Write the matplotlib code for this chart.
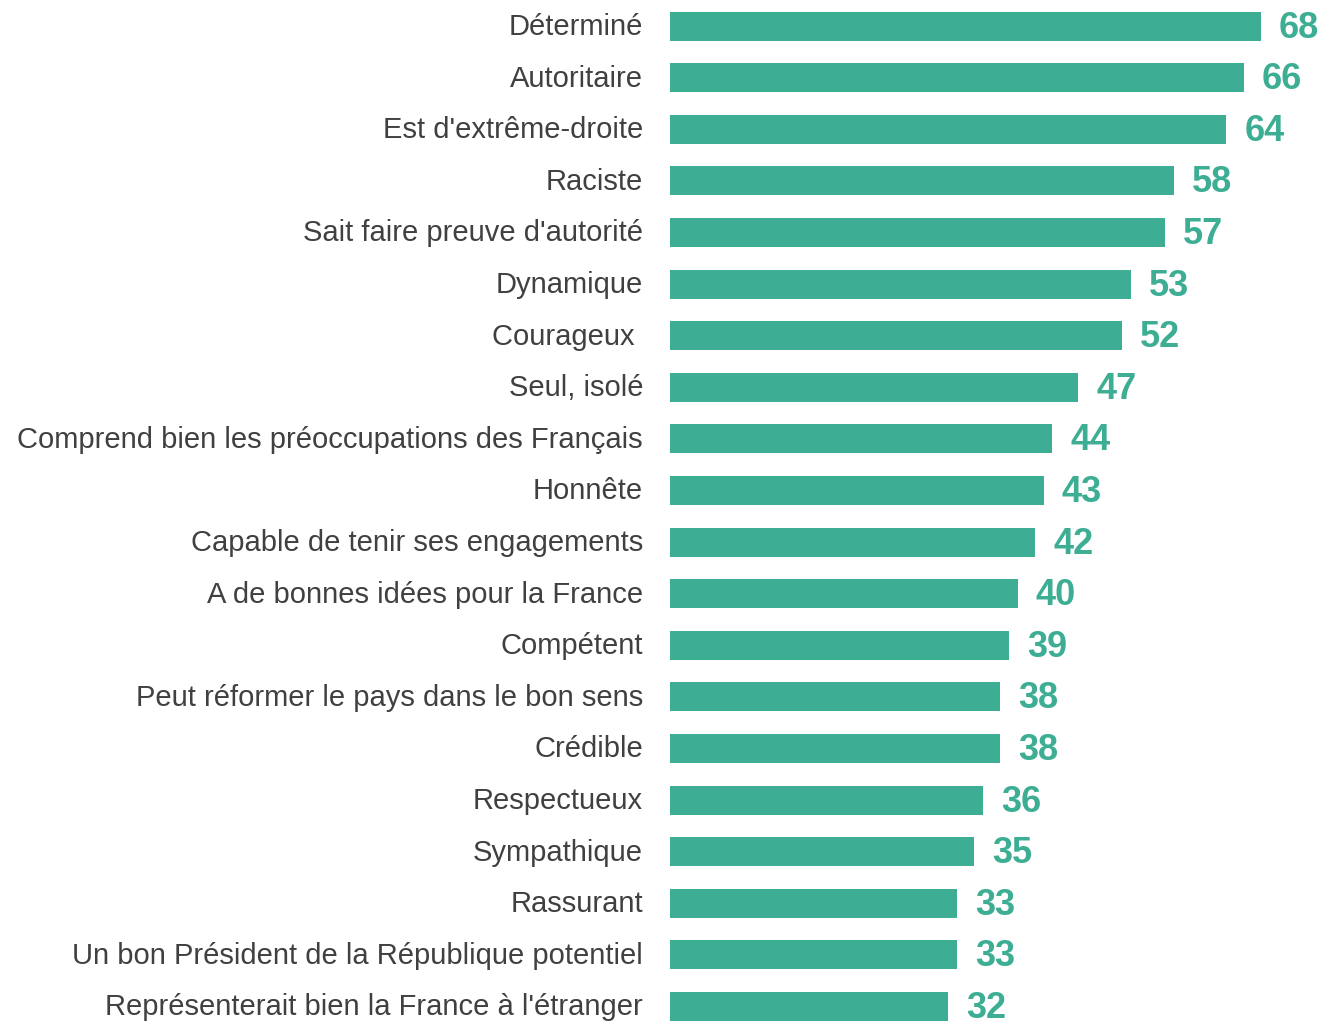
"""Horizontal bar chart of image traits (percent)."""

import matplotlib.pyplot as plt
from matplotlib.transforms import ScaledTranslation

CATEGORIES = [
    "Déterminé",
    "Autoritaire",
    "Est d'extrême-droite",
    "Raciste",
    "Sait faire preuve d'autorité",
    "Dynamique",
    "Courageux ",
    "Seul, isolé",
    "Comprend bien les préoccupations des Français",
    "Honnête",
    "Capable de tenir ses engagements",
    "A de bonnes idées pour la France",
    "Compétent",
    "Peut réformer le pays dans le bon sens",
    "Crédible",
    "Respectueux",
    "Sympathique",
    "Rassurant",
    "Un bon Président de la République potentiel",
    "Représenterait bien la France à l'étranger",
]
VALUES = [68, 66, 64, 58, 57, 53, 52, 47, 44, 43, 42, 40, 39, 38, 38, 36, 35, 33, 33, 32]

BAR_COLOR = "#3dae93"
TEXT_COLOR = "#404040"

W, H, DPI = 1325, 1022, 100
X0 = 670          # pixel where value 0 sits
PX_PER_UNIT = 8.69
ROW0 = 26         # centre of first row, px from top
ROW_STEP = 51.6


def main():
    plt.rcParams["font.family"] = ["Liberation Sans", "DejaVu Sans"]
    fig = plt.figure(figsize=(W / DPI, H / DPI), dpi=DPI)
    ax = fig.add_axes([X0 / W, 0, 1 - X0 / W, 1])

    pos = list(range(len(CATEGORIES)))
    ax.barh(pos, VALUES, height=29 / ROW_STEP, color=BAR_COLOR)

    ax.set_xlim(0, (W - X0) / PX_PER_UNIT)
    ax.set_ylim((H - ROW0) / ROW_STEP, -ROW0 / ROW_STEP)

    ax.set_yticks(pos)
    ax.set_yticklabels(CATEGORIES, fontsize=21, color=TEXT_COLOR)
    ax.tick_params(axis="y", length=0, pad=19.4)
    # nudge labels up a little
    up = ScaledTranslation(0, 2 / DPI, fig.dpi_scale_trans)
    for lab in ax.get_yticklabels():
        lab.set_transform(lab.get_transform() + up)
    ax.set_xticks([])
    for s in ax.spines.values():
        s.set_visible(False)

    for p, v in zip(pos, VALUES):
        ax.annotate(str(v), (v, p), xytext=(13, -1.5), textcoords="offset points",
                    ha="left", va="center", fontsize=26, fontweight="bold",
                    color=BAR_COLOR)

    fig.savefig("out.png", dpi=DPI)
    plt.close(fig)


if __name__ == "__main__":
    main()
